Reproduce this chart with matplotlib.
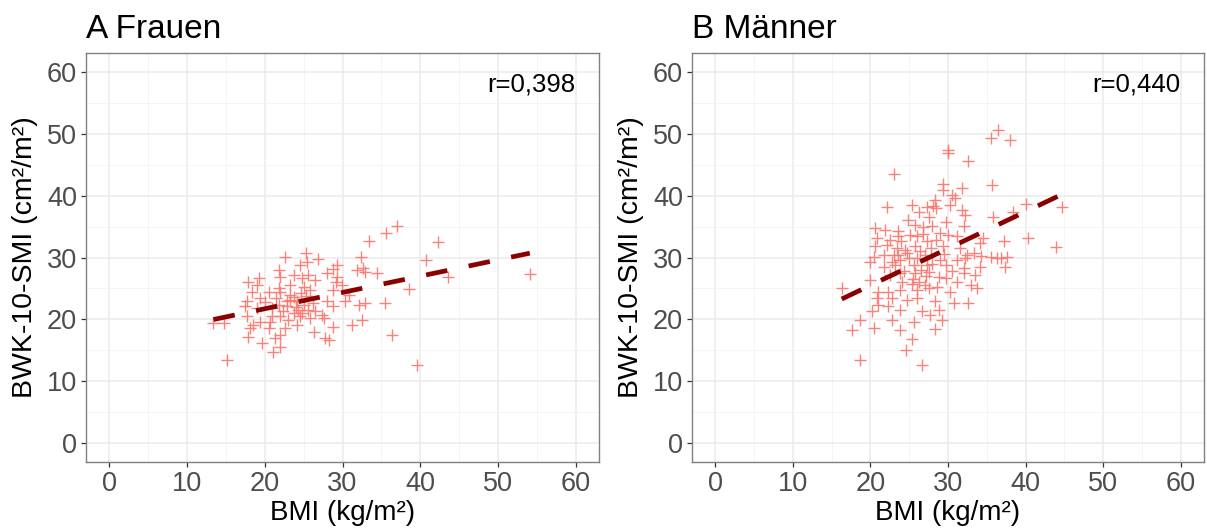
import numpy as np
import matplotlib
matplotlib.use("Agg")
import matplotlib.pyplot as plt
from matplotlib.ticker import MultipleLocator

plt.rcParams["font.family"] = ["Liberation Sans", "DejaVu Sans"]

# BMI (x) and BWK-10-SMI (y)
frauen_bmi = [37.0, 35.6, 33.4, 32.4, 22.6, 25.3, 25.4, 26.9, 24.5, 29.3, 28.8, 31.9, 32.7, 32.9, 34.4,
              21.8, 22.0, 23.7, 25.6, 28.0, 29.3, 19.2, 17.9, 24.8, 26.5, 29.1, 29.9, 19.0, 21.8, 22.0,
              25.0, 25.8, 28.8, 18.3, 20.5, 23.3, 19.4, 17.7, 23.3, 24.1, 25.0, 22.8, 21.8, 20.9, 28.0,
              30.3, 30.8, 32.1, 32.9, 35.5, 28.8, 17.5, 19.0, 24.3, 25.6, 22.4, 23.7, 26.5, 27.3, 17.7,
              20.9, 22.0, 24.5, 25.8, 27.6, 32.5, 31.2, 19.4, 18.5, 20.7, 23.0, 24.1, 13.4, 14.7, 18.1,
              20.5, 22.6, 28.8, 26.3, 17.9, 22.0, 21.3, 27.8, 28.2, 19.6, 22.0, 21.1, 36.4, 15.1, 42.3,
              40.8, 43.6, 54.1, 38.5, 39.6, 23.8, 24.6, 22.9, 25.3, 24.0, 21.5, 26.2, 23.2, 20.0, 24.8]
frauen_smi = [35.1, 34.0, 32.6, 30.1, 30.1, 30.7, 29.3, 29.7, 28.8, 28.8, 28.1, 28.0, 28.3, 27.7, 27.5,
              28.0, 26.9, 27.2, 27.2, 27.5, 26.9, 26.7, 26.1, 26.7, 26.4, 26.1, 25.6, 25.6, 25.0, 24.5,
              25.3, 24.8, 24.8, 24.5, 24.5, 24.0, 23.4, 22.9, 23.2, 22.9, 22.3, 22.1, 22.3, 21.8, 22.9,
              22.9, 24.0, 22.3, 22.6, 22.6, 22.1, 22.1, 21.8, 21.5, 21.5, 21.3, 21.0, 21.3, 20.7, 20.5,
              20.5, 20.5, 20.5, 20.2, 20.2, 19.9, 19.1, 19.6, 19.1, 19.6, 19.9, 19.1, 19.4, 19.4, 18.6,
              18.6, 18.6, 18.8, 18.0, 17.2, 17.5, 17.0, 17.0, 16.7, 16.2, 15.6, 14.8, 17.5, 13.5, 32.5,
              29.6, 26.8, 27.4, 24.9, 12.6, 23.6, 24.2, 23.0, 23.8, 22.0, 23.5, 22.6, 25.5, 22.8, 21.0]

maenner_bmi = [35.6, 36.5, 30.0, 30.0, 32.6, 23.1, 35.7, 29.4, 29.4, 31.8, 30.5, 30.9, 28.3, 28.1, 22.1,
               25.3, 27.3, 28.5, 26.2, 30.3, 31.8, 32.2, 35.8, 24.9, 26.8, 27.9, 32.0, 20.6, 21.9, 23.6,
               25.1, 26.0, 29.0, 30.0, 31.1, 20.8, 22.5, 24.0, 27.3, 28.5, 20.6, 22.1, 23.4, 25.8, 26.4,
               29.4, 34.1, 34.5, 21.7, 23.6, 32.4, 35.6, 20.4, 20.0, 23.0, 23.8, 24.7, 26.0, 27.0, 29.0,
               31.1, 32.2, 33.3, 34.3, 36.3, 21.7, 23.2, 25.6, 27.3, 29.8, 32.0, 34.1, 22.5, 23.8, 25.8,
               27.5, 28.8, 29.8, 32.0, 33.5, 20.0, 24.1, 25.3, 27.0, 31.1, 33.0, 33.7, 16.3, 21.0, 22.3,
               23.8, 26.0, 27.5, 20.8, 22.8, 24.7, 26.0, 28.3, 30.8, 32.6, 21.0, 22.3, 23.8, 20.2, 26.6,
               27.7, 28.8, 18.7, 22.8, 25.6, 29.2, 17.6, 20.4, 23.8, 28.3, 25.3, 24.6, 18.7, 26.6, 38.0,
               40.0, 44.7, 38.4, 37.2, 40.3, 36.8, 37.6, 37.4, 43.9, 25.0, 26.5, 24.3, 27.8, 25.5, 28.0,
               26.8, 24.5, 29.5, 27.2, 30.5, 22.8, 26.3, 28.6, 30.2, 23.5, 27.6, 25.7, 29.7, 31.5]
maenner_smi = [49.3, 50.6, 47.3, 46.8, 45.5, 43.5, 41.7, 41.9, 40.9, 41.2, 40.1, 39.6, 39.3, 38.3, 38.1,
               38.5, 38.1, 38.0, 37.4, 38.5, 37.7, 36.9, 36.6, 36.1, 35.0, 35.1, 35.1, 34.7, 34.5, 34.2,
               33.7, 33.4, 33.9, 33.7, 33.4, 33.1, 32.8, 32.6, 32.6, 32.8, 31.8, 32.0, 31.5, 31.8, 31.0,
               31.8, 32.3, 33.1, 30.4, 30.4, 30.4, 30.1, 30.1, 29.3, 30.4, 29.6, 30.7, 29.9, 30.4, 29.6,
               29.6, 29.9, 30.7, 30.3, 29.9, 28.5, 28.8, 28.8, 28.8, 28.8, 28.3, 28.5, 27.2, 27.5, 27.5,
               27.7, 26.9, 26.7, 27.5, 27.2, 26.4, 26.1, 25.8, 25.6, 26.1, 25.6, 25.0, 25.0, 24.5, 24.5,
               24.8, 24.8, 25.0, 23.4, 23.4, 23.2, 23.4, 22.9, 22.6, 22.7, 22.3, 22.1, 21.5, 21.3, 21.3,
               20.7, 21.5, 19.9, 19.9, 19.6, 19.9, 18.3, 18.6, 18.3, 18.4, 16.8, 15.0, 13.5, 12.6, 49.0,
               38.7, 38.1, 37.3, 32.7, 33.2, 29.9, 30.1, 28.4, 31.7, 30.0, 28.0, 27.8, 31.5, 26.5, 29.0,
               33.8, 31.2, 30.5, 27.0, 27.8, 29.2, 26.0, 25.2, 24.5, 33.5, 36.5, 35.3, 35.8, 31.5]

# regression lines (intercept, slope) and correlation labels
fit_frauen = (16.47, 0.263)
fit_maenner = (13.6, 0.595)
r_labels = ["r=0,398", "r=0,440"]
titles = ["A Frauen", "B Männer"]

W, H = 1207, 530
fig = plt.figure(figsize=(W / 100, H / 100), dpi=100)
ax1 = fig.add_axes([86 / W, 68 / H, 513 / W, 409 / H])
ax2 = fig.add_axes([692 / W, 68 / H, 512 / W, 409 / H])

panels = [(ax1, frauen_bmi, frauen_smi, fit_frauen),
          (ax2, maenner_bmi, maenner_smi, fit_maenner)]

for i, (ax, bx, sy, fit) in enumerate(panels):
    ax.set_xlim(-3, 63)
    ax.set_ylim(-3, 63)
    ax.xaxis.set_major_locator(MultipleLocator(10))
    ax.yaxis.set_major_locator(MultipleLocator(10))
    ax.xaxis.set_minor_locator(MultipleLocator(5))
    ax.yaxis.set_minor_locator(MultipleLocator(5))
    ax.grid(which="major", color="#EBEBEB", lw=1.1, zorder=0)
    ax.grid(which="minor", color="#F2F2F2", lw=0.6, zorder=0)
    ax.set_axisbelow(True)
    for s in ax.spines.values():
        s.set_color("#808080")
        s.set_linewidth(1.0)
    ax.tick_params(which="major", length=3.5, width=0.9, color="#333333",
                   labelsize=19.5, labelcolor="#4D4D4D", pad=3)
    ax.tick_params(which="minor", length=0)

    ax.plot(bx, sy, linestyle="none", marker="+", markersize=9,
            markeredgewidth=1.0, color="#F8766D", alpha=0.9, zorder=3)

    xs = np.array([min(bx), max(bx)])
    ax.plot(xs, fit[0] + fit[1] * xs, color="#8B0000", lw=3.4,
            dashes=(4.6, 4.6), solid_capstyle="butt", dash_capstyle="butt", zorder=4)

    ax.text(60, 56.8, r_labels[i], ha="right", va="baseline", fontsize=18.5, color="black")
    ax.set_xlabel("BMI (kg/m²)", fontsize=20, labelpad=2)
    ax.set_ylabel("BWK-10-SMI (cm²/m²)", fontsize=20.5, labelpad=6)
    ax.set_title(titles[i], loc="left", fontsize=24, pad=11)

fig.savefig("out.png", dpi=100)
